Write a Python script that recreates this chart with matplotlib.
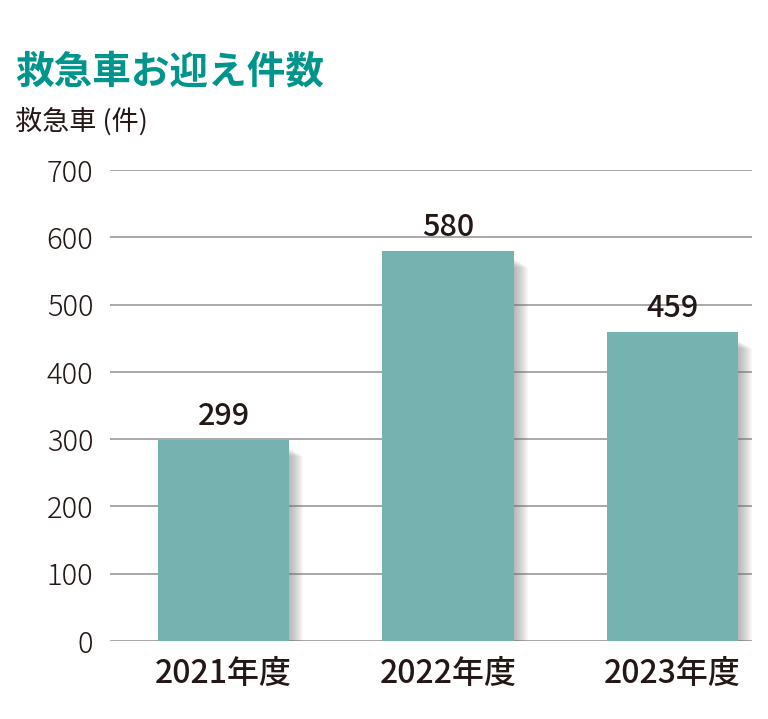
import matplotlib
matplotlib.use("Agg")
import matplotlib.pyplot as plt
from matplotlib.patches import Rectangle

categories = ["2021年度", "2022年度", "2023年度"]
values = [299, 580, 459]
yticks = [0, 100, 200, 300, 400, 500, 600, 700]

plt.rcParams['font.family'] = ['Noto Sans CJK JP', 'DejaVu Sans']

fig = plt.figure(figsize=(7.68, 7.19), dpi=100)
ax = fig.add_axes([110/768, 78/719, (752-110)/768, (641-170)/719])

x = list(range(len(categories)))
w = 0.585
px = 1 / 224.0          # one pixel in x data units
py = 700 / 471.0        # one pixel in y data units
# soft blurred shadows on the right side
for i, v in zip(x, values):
    right = i + w / 2
    for k in range(1, 15):
        ax.add_patch(Rectangle((right - 2 * px, 0), (k + 2) * px, v - (8 + k * 0.6) * py,
                               facecolor='#707070', alpha=0.045, edgecolor='none', zorder=2))
ax.bar(x, values, width=w, color='#76b2b0', zorder=3)

for i, v in zip(x, values):
    ax.text(i, v + 8 * py, str(v), ha='center', va='bottom', fontsize=22,
            fontweight='medium', color='#231815', zorder=4)

ax.set_xlim(-0.507, 2.355)
ax.set_ylim(0, 700)
ax.set_yticks(yticks)
ax.yaxis.grid(True, color='#a8a8a8', linewidth=1.4, zorder=1)
ax.set_axisbelow(True)
for s in ax.spines.values():
    s.set_visible(False)
ax.tick_params(axis='y', length=0, pad=12, labelsize=21, labelcolor='#231815')
ax.tick_params(axis='x', length=0, pad=12, labelsize=23, labelcolor='#231815')
for lab in ax.get_yticklabels():
    lab.set_fontweight('light')
ax.set_xticks(x)
ax.set_xticklabels(categories)
for lab in ax.get_xticklabels():
    lab.set_fontweight('medium')

fig.text(15/768, 1 - 72/719, "救急車お迎え件数", fontsize=27.8, fontweight='bold',
         color='#00958c', va='center', ha='left')
fig.text(15/768, 1 - 122/719, "救急車 (件)", fontsize=19.5, color='#231815',
         va='center', ha='left')

fig.savefig("out.png", dpi=100, facecolor='white')
